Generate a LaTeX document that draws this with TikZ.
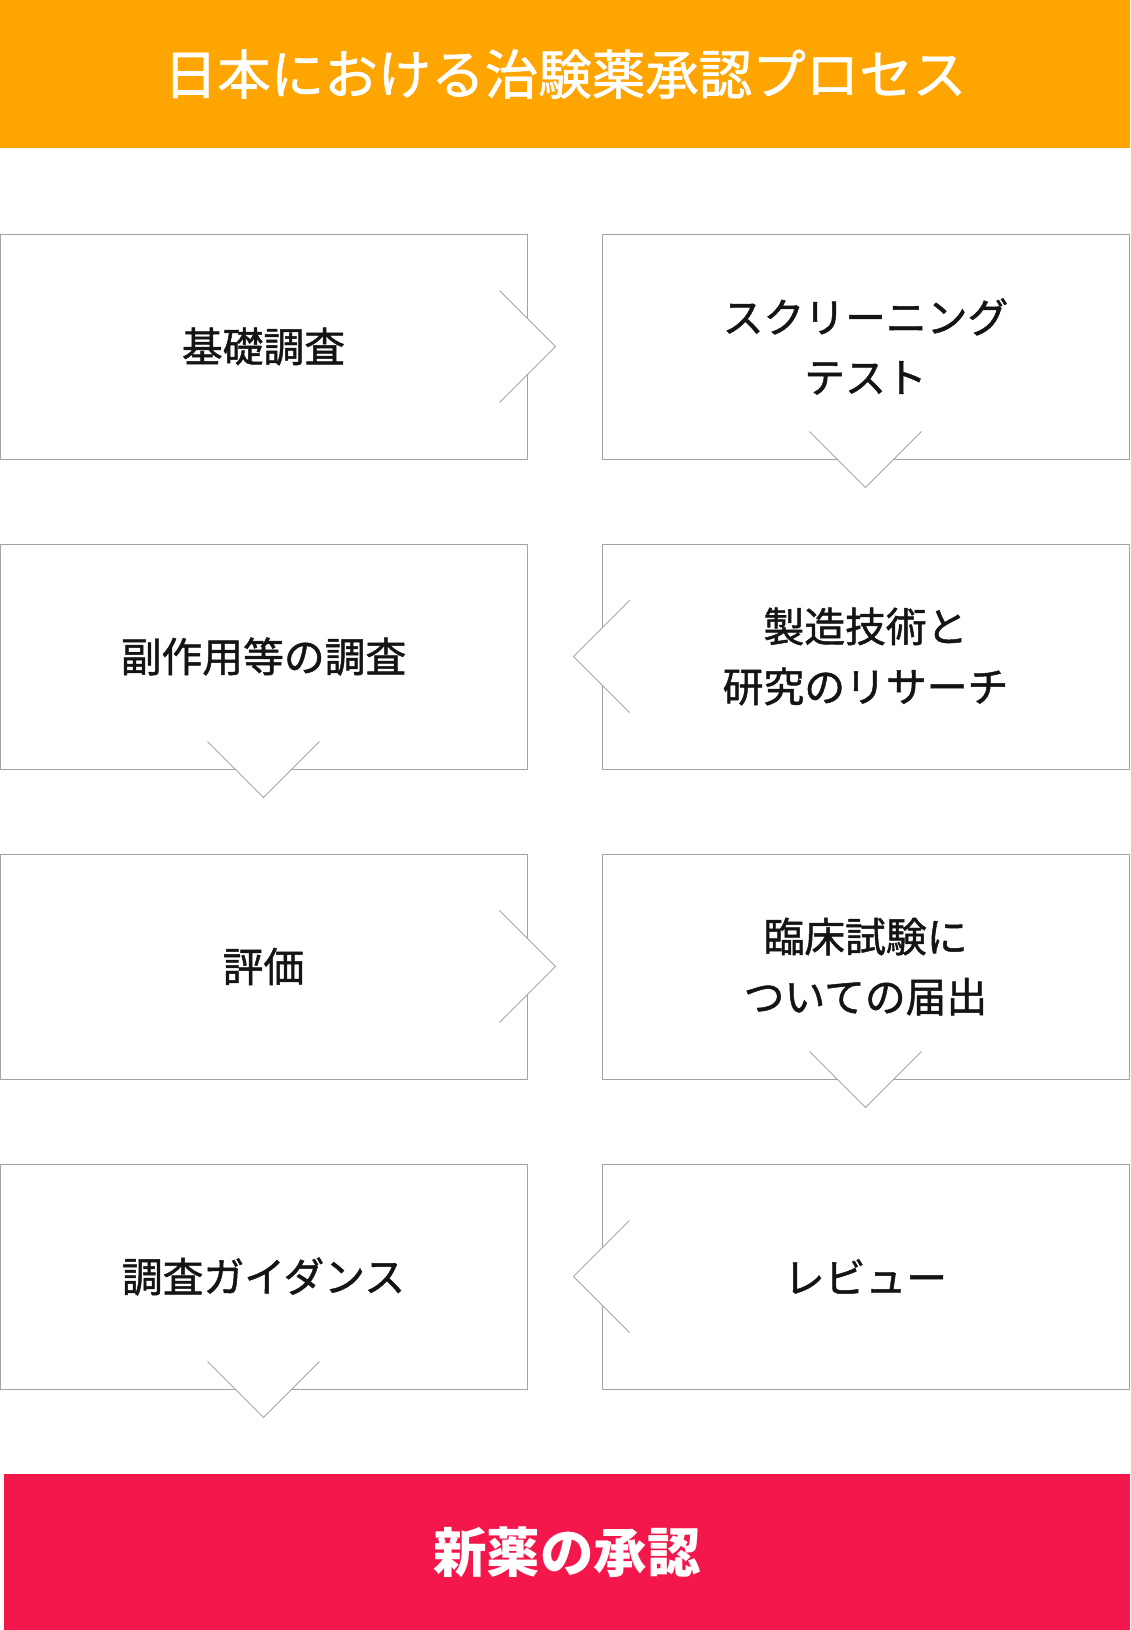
\documentclass[tikz,border=0pt]{standalone}
\usepackage{fontspec}
\setmainfont{Noto Sans CJK JP}
\newfontfamily\medfont[FakeBold=1.2]{Noto Sans CJK JP}
\usetikzlibrary{calc}

\definecolor{titleorange}{HTML}{FFA502}
\definecolor{approvered}{HTML}{F4174B}
\definecolor{framegray}{HTML}{A3A3A3}
\definecolor{labelblack}{HTML}{141414}

\tikzset{
  procbox/.style={draw=framegray, line width=1pt, minimum width=527pt,
    minimum height=225pt, inner sep=0pt, align=center, text=labelblack,
    font=\medfont\fontsize{40.8}{60}\selectfont},
  chev/.style={draw=framegray, line width=1pt, fill=white},
}

\begin{document}
\begin{tikzpicture}[x=1pt,y=-1pt]
  \useasboundingbox (0,0) rectangle (1130,1630);

  % title bar
  \fill[titleorange] (0,0) rectangle (1130,148);
  \node[text=white, font=\medfont\fontsize{53.5}{53.5}\selectfont] (title) at (565,74) {日本における治験薬承認プロセス};

  % process boxes
  \node[procbox] (kiso) at (263.5,346.5) {基礎調査};
  \node[procbox] (screen) at (865.5,346.5) {スクリーニング\\テスト};
  \node[procbox] (fuku) at (263.5,656.5) {副作用等の調査};
  \node[procbox] (seizo) at (865.5,656.5) {製造技術と\\研究のリサーチ};
  \node[procbox] (hyoka) at (263.5,966.5) {評価};
  \node[procbox] (rinsho) at (865.5,966.5) {臨床試験に\\ついての届出};
  \node[procbox] (guide) at (263.5,1276.5) {調査ガイダンス};
  \node[procbox] (review) at (865.5,1276.5) {レビュー};

  % chevrons on the box edges
  \filldraw[chev] ($(kiso.east)+(-28,-56)$) -- ($(kiso.east)+(28,0)$) -- ($(kiso.east)+(-28,56)$);
  \filldraw[chev] ($(screen.south)+(-56,-28)$) -- ($(screen.south)+(0,28)$) -- ($(screen.south)+(56,-28)$);
  \filldraw[chev] ($(seizo.west)+(28,-56)$) -- ($(seizo.west)+(-28,0)$) -- ($(seizo.west)+(28,56)$);
  \filldraw[chev] ($(fuku.south)+(-56,-28)$) -- ($(fuku.south)+(0,28)$) -- ($(fuku.south)+(56,-28)$);
  \filldraw[chev] ($(hyoka.east)+(-28,-56)$) -- ($(hyoka.east)+(28,0)$) -- ($(hyoka.east)+(-28,56)$);
  \filldraw[chev] ($(rinsho.south)+(-56,-28)$) -- ($(rinsho.south)+(0,28)$) -- ($(rinsho.south)+(56,-28)$);
  \filldraw[chev] ($(review.west)+(28,-56)$) -- ($(review.west)+(-28,0)$) -- ($(review.west)+(28,56)$);
  \filldraw[chev] ($(guide.south)+(-56,-28)$) -- ($(guide.south)+(0,28)$) -- ($(guide.south)+(56,-28)$);

  % result bar
  \fill[approvered] (4,1474) rectangle (1130,1630);
  \node[text=white, font=\bfseries\fontsize{53.5}{53.5}\selectfont] (shonin) at (567,1552) {新薬の承認};
\end{tikzpicture}
\end{document}
